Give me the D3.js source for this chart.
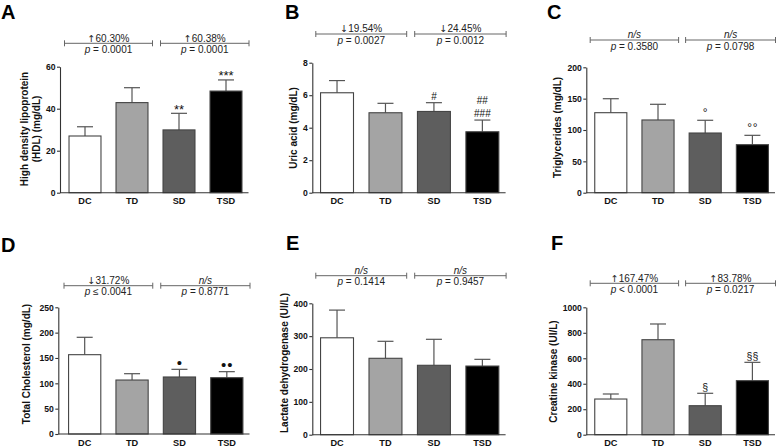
<!DOCTYPE html>
<html><head><meta charset="utf-8">
<script src="https://cdn.jsdelivr.net/npm/d3@7"></script>
<style>body{margin:0;background:#fff}svg{display:block}text{font-family:"Liberation Sans",Arial,Helvetica,sans-serif}</style>
</head><body><svg id="c" width="778" height="448"></svg>
<script>
const categories = ["DC","TD","SD","TSD"];
const barColors = ["#ffffff","#a4a4a4","#5e5e5e","#000000"];

const hdlMean = [27, 42.9, 29.9, 48.4];
const hdlErr = [4.4, 7.1, 7.9, 5.3];
const hdlTicks = [0,20,40,60];
const hdlMarks = [[],[],["**"],["***"]];
const hdlChange = ["↑60.30%","↑60.38%"];
const hdlP = ["= 0.0001","= 0.0001"];

const uaMean = [6.15, 4.92, 5.0, 3.75];
const uaErr = [0.75, 0.58, 0.54, 0.72];
const uaTicks = [0,2,4,6,8];
const uaMarks = [[],[],["#"],["##","###"]];
const uaChange = ["↓19.54%","↓24.45%"];
const uaP = ["= 0.0027","= 0.0012"];

const tgMean = [127.6, 116, 95.2, 76.6];
const tgErr = [22.3, 25, 20.3, 14.9];
const tgTicks = [0,50,100,150,200];
const tgMarks = [[],[],["°"],["°°"]];
const tgChange = ["n/s","n/s"];
const tgP = ["= 0.3580","= 0.0798"];

const tcMean = [156.5, 106.5, 112.5, 111.1];
const tcErr = [34.3, 12.5, 15.1, 11.9];
const tcTicks = [0,50,100,150,200,250];
const tcMarks = [[],[],["•"],["••"]];
const tcChange = ["↓31.72%","n/s"];
const tcP = ["≤ 0.0041","= 0.8771"];

const ldhMean = [295, 232.6, 211.3, 209];
const ldhErr = [84.3, 51.7, 79.1, 20.4];
const ldhTicks = [0,100,200,300,400];
const ldhMarks = [[],[],[],[]];
const ldhChange = ["n/s","n/s"];
const ldhP = ["= 0.1414","= 0.9457"];

const ckMean = [280, 745.6, 227.6, 424];
const ckErr = [39.5, 123.4, 97.4, 144];
const ckTicks = [0,200,400,600,800,1000];
const ckMarks = [[],[],["§"],["§§"]];
const ckChange = ["↑167.47%","↑83.78%"];
const ckP = ["< 0.0001","= 0.0217"];

const panels = [
  {letter:"A", lx:1, ly:18.5, mean:hdlMean, err:hdlErr, ticks:hdlTicks, marks:hdlMarks, change:hdlChange, p:hdlP,
   label:["High density lipoprotein","(HDL) (mg/dL)"], labX:[28,39.5], labY:129,
   axisX:60, top:66.7, bottom:192.7, r:[61.5,249.5], bY:43.3, rMidOff:5},
  {letter:"B", lx:285, ly:18.5, mean:uaMean, err:uaErr, ticks:uaTicks, marks:uaMarks, change:uaChange, p:uaP,
   label:["Uric acid (mg/dL)"], labX:[296.5], labY:128,
   axisX:312.3, top:62.7, bottom:192.7, r:[312.8,506.6], bY:34, rMidOff:5},
  {letter:"C", lx:547, ly:19, mean:tgMean, err:tgErr, ticks:tgTicks, marks:tgMarks, change:tgChange, p:tgP,
   label:["Triglycerides (mg/dL)"], labX:[561], labY:127.5,
   axisX:586.3, top:67.3, bottom:192.7, r:[587.2,776], bY:40, rMidOff:4},
  {letter:"D", lx:1, ly:252, mean:tcMean, err:tcErr, ticks:tcTicks, marks:tcMarks, change:tcChange, p:tcP,
   label:["Total Cholesterol (mg/dL)"], labX:[30], labY:364,
   axisX:58.3, top:307.3, bottom:434, r:[61,250.5], bY:285.7, rMidOff:5},
  {letter:"E", lx:286, ly:250, mean:ldhMean, err:ldhErr, ticks:ldhTicks, marks:ldhMarks, change:ldhChange, p:ldhP,
   label:["Lactate dehydrogenase (UI/L)"], labX:[288], labY:363,
   axisX:312.3, top:303.3, bottom:434.7, r:[312.8,506.6], bY:275.7, rMidOff:5},
  {letter:"F", lx:551, ly:250, mean:ckMean, err:ckErr, ticks:ckTicks, marks:ckMarks, change:ckChange, p:ckP,
   label:["Creatine kinase (UI/L)"], labX:[556.5], labY:371.5,
   axisX:586.3, top:307.3, bottom:434.7, r:[587.2,776], bY:283.3, rMidOff:4}
];

const svg = d3.select("#c");
const AX = "#333";

function markStyle(s){
  if (s.includes("*")) return {size:13, off:-0.5, gap:12, ls:0};
  if (s.includes("#")) return {size:10, off:2.7, gap:13, ls:0};
  if (s.includes("°")) return {size:12, off:3.5, gap:11, ls:0.5};
  if (s.includes("•")) return {size:15, off:1.2, gap:11, ls:1};
  if (s.includes("§")) return {size:10.5, off:2, gap:11, ls:0};
  return {size:10, off:2, gap:11, ls:0};
}

panels.forEach(pn => {
  const g = svg.append("g");
  const x = d3.scaleBand().domain(categories).range(pn.r).paddingInner(0.32).paddingOuter(0.16);
  const ymax = pn.ticks[pn.ticks.length-1];
  const y = d3.scaleLinear().domain([0, ymax]).range([pn.bottom, pn.top]);
  const bw = x.bandwidth();

  g.append("text").attr("x", pn.lx).attr("y", pn.ly).attr("font-size", 20).attr("font-weight", "bold").attr("fill", "#000").text(pn.letter);

  categories.forEach((c,i) => {
    const cx = x(c) + bw/2;
    const yt = y(pn.mean[i] + pn.err[i]);
    g.append("line").attr("x1", cx).attr("x2", cx).attr("y1", y(pn.mean[i])).attr("y2", yt)
      .attr("stroke", "#555").attr("stroke-width", 1.2);
    g.append("line").attr("x1", cx-8).attr("x2", cx+8).attr("y1", yt).attr("y2", yt)
      .attr("stroke", "#555").attr("stroke-width", 1.2);
    const lines = pn.marks[i];
    lines.slice().reverse().forEach((m, k) => {
      const st = markStyle(m);
      g.append("text").attr("x", cx + st.ls/2).attr("y", yt - st.off - k*st.gap)
        .attr("text-anchor", "middle").attr("font-size", st.size)
        .attr("letter-spacing", st.ls)
        .attr("fill", "#111").text(m);
    });
  });

  g.selectAll("rect.bar").data(categories).join("rect")
    .attr("x", c => x(c)).attr("width", bw)
    .attr("y", (c,i) => y(pn.mean[i])).attr("height", (c,i) => pn.bottom - y(pn.mean[i]))
    .attr("fill", (c,i) => barColors[i]).attr("stroke", "#444").attr("stroke-width", 1.1);

  const ya = g.append("g").attr("transform", `translate(${pn.axisX},0)`)
    .call(d3.axisLeft(y).tickValues(pn.ticks).tickSize(3).tickSizeOuter(0).tickPadding(1.5).tickFormat(d3.format("d")));
  ya.select(".domain").attr("stroke", AX).attr("stroke-width", 1.1);
  ya.selectAll(".tick line").attr("stroke", AX).attr("stroke-width", 1.1);
  ya.selectAll(".tick text").attr("font-size", 8.6).attr("font-weight", "bold").attr("fill", "#111")
    .attr("font-family", '"Liberation Sans",Arial,sans-serif');

  const xa = g.append("g").attr("transform", `translate(0,${pn.bottom})`)
    .call(d3.axisBottom(x).tickSize(0).tickPadding(5));
  xa.select(".domain").remove();
  xa.selectAll(".tick text").attr("font-size", 9.2).attr("font-weight", "bold").attr("fill", "#111")
    .attr("font-family", '"Liberation Sans",Arial,sans-serif');
  g.append("line").attr("x1", pn.axisX).attr("x2", pn.r[1] - 1).attr("y1", pn.bottom).attr("y2", pn.bottom)
    .attr("stroke", AX).attr("stroke-width", 1.1);

  pn.label.forEach((t, k) => {
    g.append("text").attr("transform", `translate(${pn.labX[k]},${pn.labY}) rotate(-90)`)
      .attr("text-anchor", "middle").attr("font-size", 10).attr("font-weight", "bold").attr("fill", "#111").text(t);
  });

  const mid = (pn.r[0] + pn.r[1]) / 2;
  const spans = [[pn.r[0] + 3, mid - 3], [mid + pn.rMidOff, pn.r[1] - 0.5]];
  spans.forEach((s, k) => {
    const by = pn.bY;
    g.append("line").attr("x1", s[0]).attr("x2", s[1]).attr("y1", by).attr("y2", by).attr("stroke", "#666").attr("stroke-width", 1);
    [s[0], s[1]].forEach(xx => g.append("line").attr("x1", xx).attr("x2", xx).attr("y1", by-3).attr("y2", by+3).attr("stroke", "#666").attr("stroke-width", 1));
    const cx = (s[0] + s[1]) / 2;
    const t1 = g.append("text").attr("x", cx).attr("y", by - 1.8).attr("text-anchor", "middle").attr("font-size", 10).attr("fill", "#222");
    const lab = pn.change[k];
    if (lab === "n/s") {
      t1.attr("font-style", "italic").text(lab);
    } else {
      t1.append("tspan").attr("font-family", '"DejaVu Sans",sans-serif').attr("font-size", 9.5).text(lab.charAt(0));
      t1.append("tspan").text(lab.slice(1));
    }
    const t2 = g.append("text").attr("x", cx).attr("y", by + 9.6).attr("text-anchor", "middle").attr("font-size", 10).attr("fill", "#222");
    t2.append("tspan").attr("font-style", "italic").text("p");
    t2.append("tspan").text(" " + pn.p[k]);
  });
});
</script></body></html>
